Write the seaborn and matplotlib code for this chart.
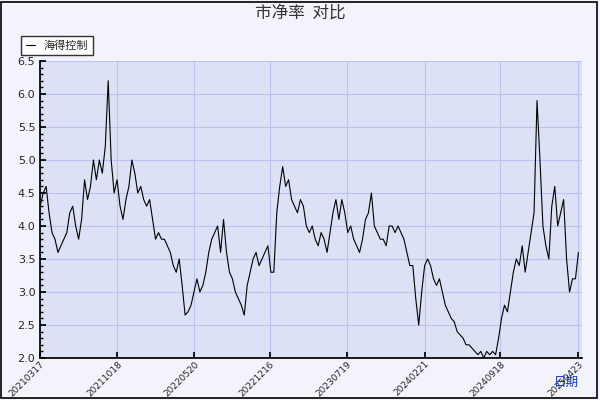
import matplotlib
matplotlib.use("Agg")
import matplotlib.pyplot as plt
import seaborn as sns
import pandas as pd
import numpy as np
from matplotlib.ticker import MultipleLocator

sns.set_theme(style="white")
plt.rcParams['font.family'] = ['Noto Sans CJK SC', 'DejaVu Sans']

pb_values = [4.3,4.5,4.6,4.2,3.9,3.8,3.6,3.7,3.8,3.9,4.2,4.3,4.0,3.8,4.1,4.7,4.4,4.6,5.0,4.7,
 5.0,4.8,5.2,6.2,5.0,4.5,4.7,4.3,4.1,4.4,4.6,5.0,4.8,4.5,4.6,4.4,4.3,4.4,4.1,3.8,
 3.9,3.8,3.8,3.7,3.6,3.4,3.3,3.5,3.1,2.65,2.7,2.8,3.0,3.2,3.0,3.1,3.3,3.6,3.8,3.9,
 4.0,3.6,4.1,3.6,3.3,3.2,3.0,2.9,2.8,2.65,3.1,3.3,3.5,3.6,3.4,3.5,3.6,3.7,3.3,3.3,
 4.2,4.6,4.9,4.6,4.7,4.4,4.3,4.2,4.4,4.3,4.0,3.9,4.0,3.8,3.7,3.9,3.8,3.6,3.9,4.2,
 4.4,4.1,4.4,4.2,3.9,4.0,3.8,3.7,3.6,3.8,4.1,4.2,4.5,4.0,3.9,3.8,3.8,3.7,4.0,4.0,
 3.9,4.0,3.9,3.8,3.6,3.4,3.4,2.9,2.5,3.0,3.4,3.5,3.4,3.2,3.1,3.2,3.0,2.8,2.7,2.6,
 2.55,2.4,2.35,2.3,2.2,2.2,2.15,2.1,2.05,2.1,2.0,2.1,2.05,2.1,2.05,2.3,2.6,2.8,2.7,3.0,
 3.3,3.5,3.4,3.7,3.3,3.6,3.9,4.2,5.9,5.0,4.0,3.7,3.5,4.3,4.6,4.0,4.2,4.4,3.5,3.0,
 3.2,3.2,3.6]
start_date = "2021-03-17"
end_date = "2025-04-23"
tick_labels = ["20210317","20211018","20220520","20221216","20230719","20240221","20240918","20250423"]

dates = pd.date_range(start_date, end_date, periods=len(pb_values))
df = pd.DataFrame({"date": dates, "pb": pb_values})

fig = plt.figure(figsize=(6, 4), dpi=100, facecolor="#F2F3FB")
ax = fig.add_axes([0.067, 0.105, 0.903, 0.7425])
ax.set_facecolor("#DCE1F5")
sns.lineplot(data=df, x="date", y="pb", ax=ax, color="black", linewidth=0.8, label="海得控制")

ticks = pd.to_datetime(tick_labels, format="%Y%m%d")
ax.set_xticks(ticks)
ax.set_xticklabels(tick_labels, rotation=45, ha="right", rotation_mode="anchor",
                   fontsize=6.5, family="DejaVu Sans")
ax.set_xlim(pd.Timestamp(start_date), pd.Timestamp(end_date) + pd.Timedelta(days=10))
ax.set_ylim(2.0, 6.5)
ax.yaxis.set_major_locator(MultipleLocator(0.5))
ax.yaxis.set_minor_locator(MultipleLocator(0.1))
ax.set_yticklabels([f"{v:.1f}" for v in ax.get_yticks()], fontsize=8, family="DejaVu Sans")
ax.tick_params(axis="y", which="both", left=True, direction="in", length=4, color="black")
ax.tick_params(axis="y", which="minor", length=2)
ax.tick_params(axis="x", bottom=True, direction="in", length=4, color="black", pad=1)
ax.grid(True, color="#B8C4EE", linewidth=0.8)
for s in ["top", "right"]:
    ax.spines[s].set_visible(False)
for s in ["left", "bottom"]:
    ax.spines[s].set_color("black")
ax.set_xlabel("")
ax.set_ylabel("")
fig.text(0.965, 0.035, "日期", color="#1030D0", fontsize=9, ha="right")
fig.text(0.5, 0.955, "市净率  对比", ha="center", fontsize=12, color="#333333")
leg = ax.legend(loc="lower left", bbox_to_anchor=(-0.045, 1.0), fontsize=8, frameon=True,
                fancybox=False, handlelength=0.8, borderpad=0.4)
leg.get_frame().set_edgecolor("black")
leg.get_frame().set_facecolor("white")
fig.patches.append(plt.Rectangle((0.002, 0.005), 0.993, 0.99, transform=fig.transFigure,
                                 fill=False, edgecolor="black", linewidth=1.2))
fig.savefig("out.png", dpi=100, facecolor=fig.get_facecolor())
